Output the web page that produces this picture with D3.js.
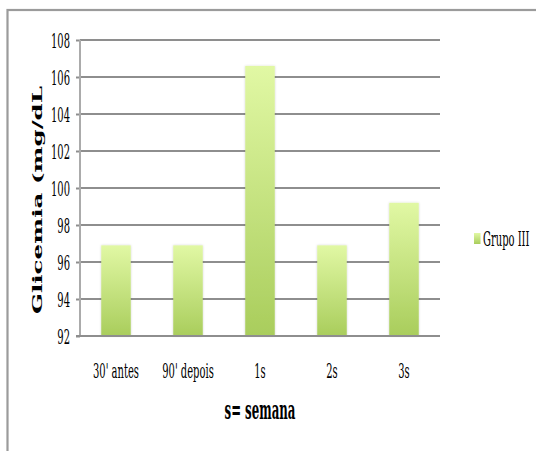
<!DOCTYPE html>
<html>
<head>
<meta charset="utf-8">
<script src="https://cdn.jsdelivr.net/npm/d3@7"></script>
<style>
  html, body { margin: 0; padding: 0; background: #ffffff; }
  svg { display: block; }
</style>
</head>
<body>
<div id="chart"></div>
<script>
// ---- data ----
const categories = ["30' antes", "90' depois", "1s", "2s", "3s"];
const values = [96.9, 96.9, 106.6, 96.9, 99.2];
const seriesName = "Grupo III";
const yTicks = [92, 94, 96, 98, 100, 102, 104, 106, 108];
const yTitle = "Glicemia (mg/dL";
const xTitle = "s= semana";

// ---- layout ----
const W = 536, H = 451;
const plot = { left: 80, right: 440, top: 40, bottom: 336 };
const FONT = "'DejaVu Serif', 'Liberation Serif', serif";
const FS = 21;

const svg = d3.select("#chart").append("svg")
  .attr("width", W).attr("height", H);

// measure to condense text horizontally like the reference
function natWidth(str, size, weight) {
  const t = svg.append("text").attr("font-family", FONT).attr("font-size", size)
    .attr("font-weight", weight || "normal").text(str);
  const w = t.node().getComputedTextLength();
  t.remove();
  return w;
}
const SX = 46 / natWidth("30' antes", FS);
const SXT = 71 / natWidth(xTitle, 26, "bold");

const defs = svg.append("defs");
const grad = defs.append("linearGradient")
  .attr("id", "barGrad").attr("x1", 0).attr("y1", 0).attr("x2", 0).attr("y2", 1);
grad.append("stop").attr("offset", "0%").attr("stop-color", "#e1f8a4");
grad.append("stop").attr("offset", "100%").attr("stop-color", "#a9cd5c");

const shadow = defs.append("filter").attr("id", "sh")
  .attr("x", "-30%").attr("y", "-10%").attr("width", "160%").attr("height", "120%");
shadow.append("feDropShadow").attr("dx", 0).attr("dy", 0)
  .attr("stdDeviation", 1.2).attr("flood-color", "#000").attr("flood-opacity", 0.18);

// outer frame (extends past the window at right/bottom)
svg.append("rect")
  .attr("x", 7.5).attr("y", 10).attr("width", 700).attr("height", 600)
  .attr("fill", "none").attr("stroke", "#9b9b9b").attr("stroke-width", 2.2);

const x = d3.scaleBand().domain(categories).range([plot.left, plot.right]).padding(0);
const y = d3.scaleLinear().domain([92, 108]).range([plot.bottom, plot.top]);

// ticks
const yAxis = d3.axisLeft(y).tickValues(yTicks).tickSize(4).tickFormat("");
const gy = svg.append("g").attr("transform", `translate(${plot.left},0)`).call(yAxis);
gy.select(".domain").remove();
gy.selectAll(".tick line").attr("stroke", "#8e8e8e").attr("stroke-width", 2);

// gridlines
svg.append("g").selectAll("line")
  .data(yTicks)
  .join("line")
  .attr("x1", plot.left).attr("x2", plot.right)
  .attr("y1", d => y(d)).attr("y2", d => y(d))
  .attr("stroke", "#8e8e8e").attr("stroke-width", 2);

// vertical axis line
svg.append("line")
  .attr("x1", plot.left).attr("x2", plot.left)
  .attr("y1", y(108)).attr("y2", y(92))
  .attr("stroke", "#ababab").attr("stroke-width", 2);

// tick labels
svg.append("g").selectAll("text")
  .data(yTicks)
  .join("text")
  .attr("transform", d => `translate(${plot.left - 10},${y(d) + 8}) scale(${SX},1)`)
  .attr("text-anchor", "end")
  .attr("font-family", FONT)
  .attr("font-size", FS)
  .attr("fill", "#000")
  .text(d => d);

// bars
const barW = x.bandwidth() * 0.41;
svg.append("g").selectAll("rect")
  .data(values)
  .join("rect")
  .attr("x", (d, i) => x(categories[i]) + x.bandwidth() / 2 - barW / 2)
  .attr("y", d => y(d))
  .attr("width", barW)
  .attr("height", d => y(92) - y(d))
  .attr("fill", "url(#barGrad)")
  .attr("filter", "url(#sh)");

// bottom axis line over bars
svg.append("line")
  .attr("x1", plot.left - 4).attr("x2", plot.right)
  .attr("y1", y(92)).attr("y2", y(92))
  .attr("stroke", "#8e8e8e").attr("stroke-width", 2.2);

// category labels
svg.append("g").selectAll("text")
  .data(categories)
  .join("text")
  .attr("transform", d => `translate(${x(d) + x.bandwidth() / 2},378) scale(${SX},1)`)
  .attr("text-anchor", "middle")
  .attr("font-family", FONT)
  .attr("font-size", FS)
  .attr("fill", "#000")
  .text(d => d);

// x title
svg.append("text")
  .attr("transform", `translate(${(plot.left + plot.right) / 2},419) scale(${SXT},1)`)
  .attr("text-anchor", "middle")
  .attr("font-family", FONT)
  .attr("font-size", 26)
  .attr("font-weight", "bold")
  .attr("fill", "#000")
  .text(xTitle);

// y title (rotated)
svg.append("text")
  .attr("transform", `translate(42,200) scale(0.55,1) rotate(-90)`)
  .attr("text-anchor", "middle")
  .attr("font-family", FONT)
  .attr("font-size", 25)
  .attr("font-weight", "bold")
  .attr("fill", "#000")
  .attr("textLength", 228)
  .attr("lengthAdjust", "spacingAndGlyphs")
  .text(yTitle);

// legend
const lg = svg.append("g");
lg.append("rect")
  .attr("x", 474).attr("y", 233).attr("width", 6.5).attr("height", 11)
  .attr("fill", "url(#barGrad)");
lg.append("text")
  .attr("transform", `translate(483,246) scale(${SX},1)`)
  .attr("font-family", FONT)
  .attr("font-size", FS)
  .attr("fill", "#000")
  .text(seriesName);
</script>
</body>
</html>
